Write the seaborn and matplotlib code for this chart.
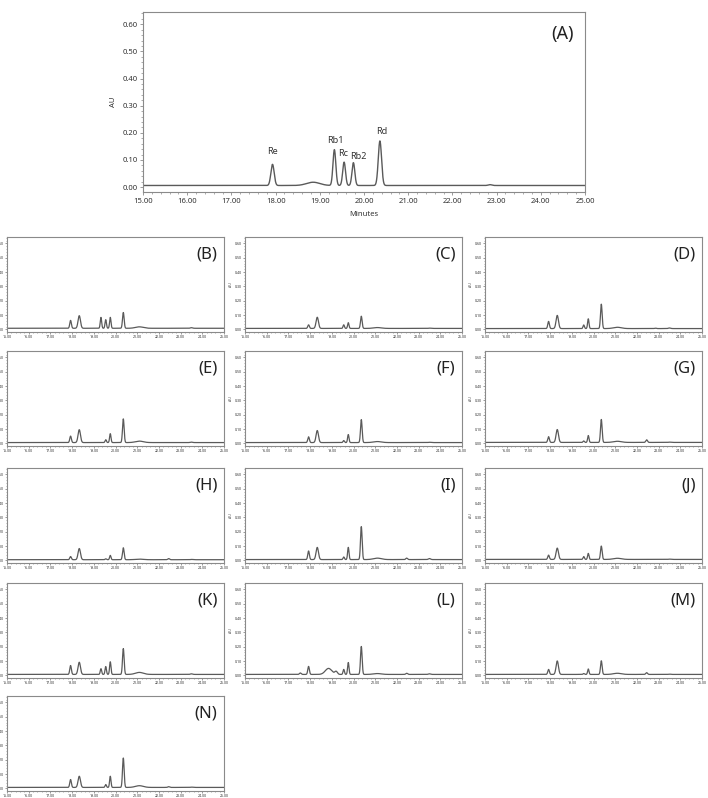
import numpy as np
import pandas as pd
import matplotlib
matplotlib.use("Agg")
import matplotlib.pyplot as plt
from matplotlib.ticker import MultipleLocator, FormatStrFormatter
import seaborn as sns

sns.set_theme(style="white")
plt.rcParams['font.family'] = ['Noto Sans', 'DejaVu Sans']

# ---- data ----
panels = ["A", "B", "C", "D", "E", "F", "G", "H", "I", "J", "K", "L", "M", "N"]
# retention times (min) of the peaks seen in the chromatograms
peak_times = [17.55, 17.93, 18.33, 18.85, 19.20, 19.33, 19.55, 19.76, 20.36, 21.10, 22.45, 22.85, 23.50]
peak_widths = [0.04, 0.037, 0.055, 0.15, 0.06, 0.032, 0.032, 0.032, 0.037, 0.18, 0.04, 0.04, 0.05]
# peak heights above baseline (AU) for each panel
h_A = [0.000, 0.078, 0.000, 0.012, 0.000, 0.132, 0.086, 0.084, 0.164, 0.000, 0.000, 0.003, 0.000]
h_B = [0.000, 0.055, 0.088, 0.000, 0.000, 0.076, 0.060, 0.076, 0.110, 0.010, 0.000, 0.000, 0.004]
h_C = [0.000, 0.025, 0.078, 0.000, 0.000, 0.000, 0.025, 0.040, 0.085, 0.006, 0.000, 0.000, 0.002]
h_D = [0.000, 0.050, 0.092, 0.000, 0.000, 0.000, 0.025, 0.068, 0.170, 0.009, 0.000, 0.003, 0.004]
h_E = [0.000, 0.045, 0.090, 0.000, 0.000, 0.000, 0.020, 0.062, 0.165, 0.010, 0.000, 0.000, 0.003]
h_F = [0.000, 0.040, 0.084, 0.000, 0.000, 0.000, 0.014, 0.056, 0.160, 0.007, 0.000, 0.000, 0.002]
h_G = [0.000, 0.040, 0.090, 0.000, 0.000, 0.000, 0.010, 0.048, 0.160, 0.008, 0.018, 0.000, 0.002]
h_H = [0.000, 0.022, 0.078, 0.000, 0.000, 0.000, 0.006, 0.030, 0.083, 0.004, 0.008, 0.000, 0.002]
h_I = [0.000, 0.060, 0.085, 0.000, 0.000, 0.000, 0.018, 0.085, 0.230, 0.010, 0.010, 0.000, 0.007]
h_J = [0.000, 0.030, 0.079, 0.000, 0.000, 0.000, 0.020, 0.042, 0.093, 0.008, 0.000, 0.000, 0.002]
h_K = [0.000, 0.062, 0.085, 0.000, 0.000, 0.040, 0.055, 0.088, 0.180, 0.014, 0.000, 0.000, 0.004]
h_L = [0.010, 0.056, 0.000, 0.042, 0.020, 0.000, 0.035, 0.083, 0.195, 0.006, 0.008, 0.000, 0.004]
h_M = [0.000, 0.035, 0.094, 0.000, 0.000, 0.000, 0.006, 0.038, 0.095, 0.008, 0.012, 0.000, 0.002]
h_N = [0.000, 0.055, 0.078, 0.000, 0.000, 0.000, 0.020, 0.078, 0.205, 0.012, 0.005, 0.000, 0.002]
baseline = [0.006, 0.008, 0.007, 0.006, 0.006, 0.006, 0.007, 0.005, 0.006, 0.007, 0.007, 0.007, 0.007, 0.007]
heights = [h_A, h_B, h_C, h_D, h_E, h_F, h_G, h_H, h_I, h_J, h_K, h_L, h_M, h_N]

# standard-compound labels in panel A (label position in data units)
std_names = ["Re", "Rb1", "Rc", "Rb2", "Rd"]
std_label_x = [17.94, 19.36, 19.53, 19.87, 20.40]
std_label_y = [0.133, 0.170, 0.125, 0.114, 0.203]

x_ticks = [15, 16, 17, 18, 19, 20, 21, 22, 23, 24, 25]
y_ticks = [0.0, 0.1, 0.2, 0.3, 0.4, 0.5, 0.6]

t = np.linspace(15, 25, 4001)


def build_trace(h, base):
    y = np.full_like(t, base)
    for c, w, a in zip(peak_times, peak_widths, h):
        y = y + a * np.exp(-0.5 * ((t - c) / w) ** 2)
    return pd.DataFrame({"Minutes": t, "AU": y})


line_col = "#5a5a5a"
frame_col = "#8a8a8a"

W, H = 708, 798
fig = plt.figure(figsize=(W / 100, H / 100), dpi=100)


def px_axes(left, top, width, height):
    return fig.add_axes([left / W, 1 - (top + height) / H, width / W, height / H])


def style(ax, small):
    ax.set_xlim(15, 25)
    ax.set_ylim(-0.018, 0.645)
    ax.set_xticks(x_ticks)
    ax.set_yticks(y_ticks)
    ax.xaxis.set_major_formatter(FormatStrFormatter("%.2f"))
    ax.yaxis.set_major_formatter(FormatStrFormatter("%.2f"))
    ax.xaxis.set_minor_locator(MultipleLocator(0.2))
    ax.yaxis.set_minor_locator(MultipleLocator(0.02))
    fs = 2.6 if small else 5.5
    ax.tick_params(axis="both", which="major", labelsize=fs, length=2.5 if not small else 1.5,
                   width=0.6, color=frame_col, labelcolor="#333333", pad=1.5 if not small else 0.8,
                   bottom=True, left=True, direction="out")
    ax.tick_params(axis="both", which="minor", length=1.5 if not small else 0.9, width=0.5,
                   color=frame_col, bottom=True, left=True, direction="out")
    for s in ax.spines.values():
        s.set_color(frame_col)
        s.set_linewidth(0.8)
    ax.set_xlabel("")
    ax.set_ylabel("")


# ---- panel A ----
axA = px_axes(143, 12, 442, 180)
trA = build_trace(heights[0], baseline[0])
sns.lineplot(data=trA, x="Minutes", y="AU", ax=axA, color=line_col, linewidth=1.0)
style(axA, small=False)
axA.set_xlabel("Minutes", fontsize=5.5, color="#333333", labelpad=5)
axA.set_ylabel("AU", fontsize=5.5, color="#333333", labelpad=4)
axA.text(0.975, 0.93, "(A)", transform=axA.transAxes, ha="right", va="top", fontsize=13, color="#222222")
for name, lx, ly in zip(std_names, std_label_x, std_label_y):
    axA.text(lx, ly, name, ha="center", va="center", fontsize=6.5, color="#333333")

# ---- small panels ----
col_left = [7, 245, 485]
row_top = [237, 351, 468, 583, 696]
pw, ph = 217, 95
for i, name in enumerate(panels[1:]):
    r, c = divmod(i, 3)
    ax = px_axes(col_left[c], row_top[r], pw, ph)
    sns.lineplot(data=build_trace(heights[i + 1], baseline[i + 1]), x="Minutes", y="AU", ax=ax,
                 color=line_col, linewidth=0.9)
    style(ax, small=True)
    if c > 0:
        ax.set_ylabel("AU", fontsize=2.6, color="#444444", labelpad=1)
    ax.text(0.97, 0.9, f"({name})", transform=ax.transAxes, ha="right", va="top",
            fontsize=12, color="#222222")

fig.savefig("out.png", dpi=100)
